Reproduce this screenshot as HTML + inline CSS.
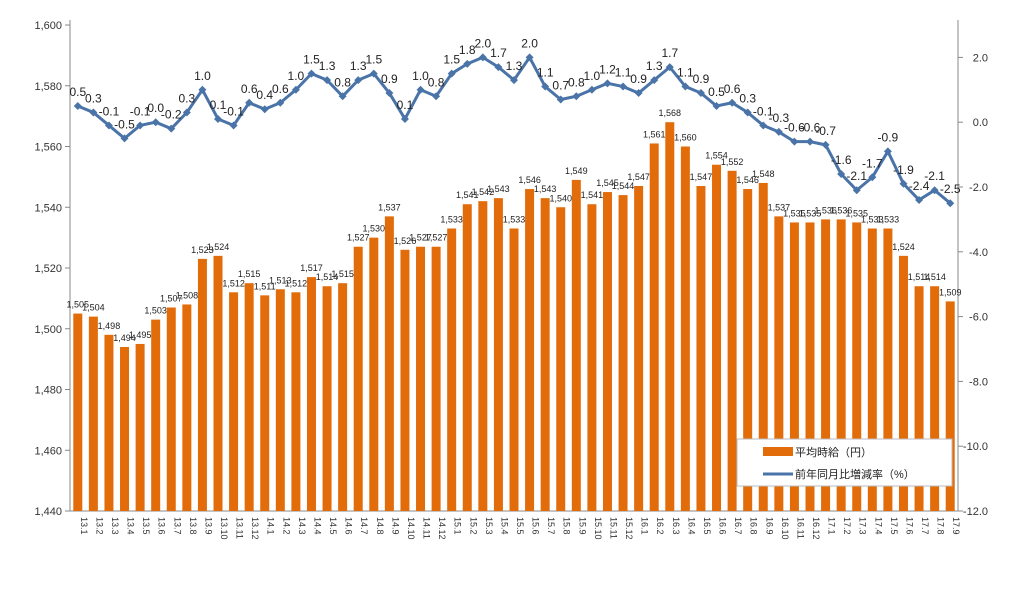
<!DOCTYPE html>
<html><head><meta charset="utf-8"><style>
body{margin:0;background:#fff;}
svg text{font-family:"Liberation Sans","Noto Sans CJK JP",sans-serif;}
</style></head><body>
<svg id="chart" width="1009" height="604" xmlns="http://www.w3.org/2000/svg"></svg>
<script>
const categories=["13.1","13.2","13.3","13.4","13.5","13.6","13.7","13.8","13.9","13.10","13.11","13.12","14.1","14.2","14.3","14.4","14.5","14.6","14.7","14.8","14.9","14.10","14.11","14.12","15.1","15.2","15.3","15.4","15.5","15.6","15.7","15.8","15.9","15.10","15.11","15.12","16.1","16.2","16.3","16.4","16.5","16.6","16.7","16.8","16.9","16.10","16.11","16.12","17.1","17.2","17.3","17.4","17.5","17.6","17.7","17.8","17.9"];
const wages=[1505,1504,1498,1494,1495,1503,1507,1508,1523,1524,1512,1515,1511,1513,1512,1517,1514,1515,1527,1530,1537,1526,1527,1527,1533,1541,1542,1543,1533,1546,1543,1540,1549,1541,1545,1544,1547,1561,1568,1560,1547,1554,1552,1546,1548,1537,1535,1535,1536,1536,1535,1533,1533,1524,1514,1514,1509];
const yoy=[0.5,0.3,-0.1,-0.5,-0.1,0.0,-0.2,0.3,1.0,0.1,-0.1,0.6,0.4,0.6,1.0,1.5,1.3,0.8,1.3,1.5,0.9,0.1,1.0,0.8,1.5,1.8,2.0,1.7,1.3,2.0,1.1,0.7,0.8,1.0,1.2,1.1,0.9,1.3,1.7,1.1,0.9,0.5,0.6,0.3,-0.1,-0.3,-0.6,-0.6,-0.7,-1.6,-2.1,-1.7,-0.9,-1.9,-2.4,-2.1,-2.5];
const leftTicks=[1440,1460,1480,1500,1520,1540,1560,1580,1600];
const rightTicks=[-12,-10,-8,-6,-4,-2,0,2];

const svg=document.getElementById('chart');
const NS='http://www.w3.org/2000/svg';
const X0=70,X1=958,Y0=25,Y1=511;
const bw=(X1-X0)/categories.length;
const xc=i=>X0+bw*(i+0.5);
const yL=v=>Y1-(v-1440)/(1600-1440)*(Y1-Y0);
const yR=v=>Y1-(v+12)/(15)*(Y1-Y0);
function el(tag,attrs,text){const e=document.createElementNS(NS,tag);for(const k in attrs)e.setAttribute(k,attrs[k]);if(text!==undefined)e.textContent=text;svg.appendChild(e);return e;}
const fmt=v=>{const s=String(v);return s.length>3?s[0]+','+s.slice(1):s;};

// axes
let a=el('line',{x1:X0,y1:Y0-5,x2:X0,y2:Y1,stroke:'#888'});


a=el('line',{x1:X1,y1:Y0-5,x2:X1,y2:Y1,stroke:'#888'});


a=el('line',{x1:X0,y1:Y1,x2:X1,y2:Y1,stroke:'#888'});


leftTicks.forEach(t=>{
  el('line',{x1:X0-5,y1:yL(t),x2:X0,y2:yL(t),stroke:'#888'});
  const tx=el('text',{x:X0-8,y:yL(t)+4,'font-size':11,'text-anchor':'end',fill:'#333'},fmt(t));
  
  
});
rightTicks.forEach(t=>{
  el('line',{x1:X1,y1:yR(t),x2:X1+5,y2:yR(t),stroke:'#888'});
  const tx=el('text',{x:X1+30,y:yR(t)+4,'font-size':11,'text-anchor':'end',fill:'#333'},t.toFixed(1));
  
  
});
// bars
wages.forEach((v,i)=>{
  const r=el('rect',{x:xc(i)-4.5,y:yL(v),width:9,height:Y1-yL(v),fill:'#E36C0A'});
  
  
  const t=el('text',{x:xc(i),y:yL(v)-6,'font-size':9,'text-anchor':'middle',fill:'#222'},fmt(v));
  
  
  const xl=el('text',{transform:`translate(${xc(i)+3},${Y1+6}) rotate(90)`,'font-size':9,fill:'#333'},categories[i]);
  
  
});
// line
const pl=el('polyline',{points:yoy.map((v,i)=>xc(i)+','+yR(v)).join(' '),fill:'none',stroke:'#4A74A8','stroke-width':3});


yoy.forEach((v,i)=>{
  const x=xc(i),y=yR(v);
  const m=el('polygon',{points:`${x},${y-4} ${x+4},${y} ${x},${y+4} ${x-4},${y}`,fill:'#4A74A8'});
  
  
  const t=el('text',{x:x,y:y-10,'font-size':12,'text-anchor':'middle',fill:'#222'},v.toFixed(1));
  
  
});
// legend
const lg=el('rect',{x:737,y:439,width:215,height:47,fill:'#fff',stroke:'#bbb'});


el('rect',{x:763,y:447,width:30,height:9,fill:'#E36C0A'});
let lt=el('text',{x:795,y:456,'font-size':11,fill:'#222'},'平均時給（円）');


el('line',{x1:763,y1:474,x2:793,y2:474,stroke:'#4A74A8','stroke-width':3});
lt=el('text',{x:795,y:478,'font-size':11,fill:'#222'},'前年同月比増減率（%）');


</script>
</body></html>
